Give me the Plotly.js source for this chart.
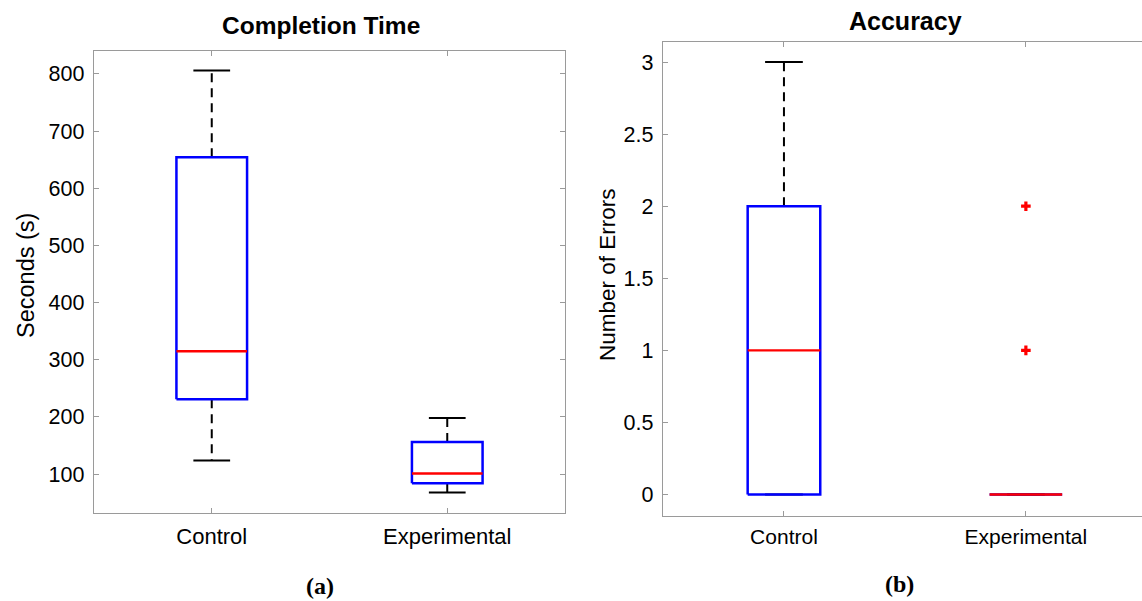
<!DOCTYPE html>
<html>
<head>
<meta charset="utf-8">
<script src="https://cdn.plot.ly/plotly-3.0.1.min.js"></script>
<style>html,body{margin:0;padding:0;background:#fff;}#chart{width:1142px;height:601px;}</style>
</head>
<body>
<div id="chart"></div>
<script>
// ---------- data ----------
const categories = ['Control', 'Experimental'];

// Completion Time (seconds)
const timeLowerWhisker = [124, 68];
const timeQ1 = [231, 84];
const timeMedian = [315, 101];
const timeQ3 = [654, 156];
const timeUpperWhisker = [806, 198];
const timeOutliers = [[], []];
const timeTicks = [100, 200, 300, 400, 500, 600, 700, 800];

// Accuracy (number of errors)
const errLowerWhisker = [0, 0];
const errQ1 = [0, 0];
const errMedian = [1, 0];
const errQ3 = [2, 0];
const errUpperWhisker = [3, 0];
const errOutliers = [[], [1, 2]];
const errTicks = [0, 0.5, 1, 1.5, 2, 2.5, 3];
const errTickText = ['0', '0.5', '1', '1.5', '2', '2.5', '3'];

// ---------- styles ----------
const BOX_HALF = 0.15;
const CAP_HALF = 0.078;
const BLUE = '#0000ff', RED = '#ff0000', BLACK = '#000000';
const AXIS_GRAY = '#9a9a9a';
const FONT = 'Liberation Sans, Arial, Helvetica, sans-serif';

function buildBoxes(lo, q1, med, q3, hi, outl, xa, ya) {
  const tr = [];
  const base = {type: 'scatter', mode: 'lines', xaxis: xa, yaxis: ya, hoverinfo: 'skip', showlegend: false};
  for (let i = 0; i < categories.length; i++) {
    const p = i + 1;
    // whiskers (dashed)
    tr.push(Object.assign({}, base, {x: [p, p], y: [q3[i], hi[i]], line: {color: BLACK, width: 2, dash: '9px,6px'}}));
    tr.push(Object.assign({}, base, {x: [p, p], y: [q1[i], lo[i]], line: {color: BLACK, width: 2, dash: '9px,6px'}}));
    // caps
    tr.push(Object.assign({}, base, {x: [p - CAP_HALF, p + CAP_HALF], y: [hi[i], hi[i]], line: {color: BLACK, width: 2}}));
    tr.push(Object.assign({}, base, {x: [p - CAP_HALF, p + CAP_HALF], y: [lo[i], lo[i]], line: {color: BLACK, width: 2}}));
    // box
    tr.push(Object.assign({}, base, {
      x: [p - BOX_HALF, p + BOX_HALF, p + BOX_HALF, p - BOX_HALF, p - BOX_HALF],
      y: [q1[i], q1[i], q3[i], q3[i], q1[i]],
      line: {color: BLUE, width: 2.5}
    }));
    // median
    tr.push(Object.assign({}, base, {x: [p - BOX_HALF, p + BOX_HALF], y: [med[i], med[i]], line: {color: RED, width: 2.4}}));
    // outliers
    if (outl[i].length) {
      tr.push({type: 'scatter', mode: 'markers', xaxis: xa, yaxis: ya, hoverinfo: 'skip', showlegend: false,
        x: outl[i].map(() => p), y: outl[i],
        marker: {symbol: 'cross', size: 8, color: RED, line: {width: 0}}});
    }
  }
  return tr;
}

const traces = [].concat(
  buildBoxes(timeLowerWhisker, timeQ1, timeMedian, timeQ3, timeUpperWhisker, timeOutliers, 'x', 'y'),
  buildBoxes(errLowerWhisker, errQ1, errMedian, errQ3, errUpperWhisker, errOutliers, 'x2', 'y2')
);

const W = 1142, H = 601;
const px = v => v / W;
const py = v => 1 - v / H;

const axisCommon = {
  showgrid: false, zeroline: false, showline: true, linecolor: AXIS_GRAY, linewidth: 1.3,
  ticks: 'inside', ticklen: 5, tickwidth: 1, tickcolor: AXIS_GRAY,
  tickfont: {family: FONT, size: 21.5, color: '#000'}, fixedrange: true
};

const layout = {
  width: W, height: H,
  margin: {l: 0, r: 0, t: 0, b: 0},
  paper_bgcolor: '#fff', plot_bgcolor: '#fff',
  showlegend: false,
  xaxis: Object.assign({}, axisCommon, {
    domain: [px(94), px(565)], range: [0.5, 2.5], anchor: 'y',
    tickvals: [1, 2], ticktext: categories, mirror: 'ticks', ticklabelstandoff: 3,
    tickfont: {family: FONT, size: 22, color: '#000'}
  }),
  yaxis: Object.assign({}, axisCommon, {
    domain: [py(513), py(51)], range: [32, 840], anchor: 'x',
    tickvals: timeTicks, mirror: 'ticks', ticklabelstandoff: 4
  }),
  xaxis2: Object.assign({}, axisCommon, {
    domain: [px(663), 1], range: [0.5, 2.48], anchor: 'y2',
    tickvals: [1, 2], ticktext: categories, mirror: 'ticks', ticklabelstandoff: 1,
    tickfont: {family: FONT, size: 21, color: '#000'}
  }),
  yaxis2: Object.assign({}, axisCommon, {
    domain: [py(516), py(42)], range: [-0.149, 3.139], anchor: 'x2',
    tickvals: errTicks, ticktext: errTickText, mirror: false, ticklabelstandoff: 4
  }),
  annotations: [
    {text: '<b>Completion Time</b>', x: px(321), y: py(26), xref: 'paper', yref: 'paper', showarrow: false,
      xanchor: 'center', yanchor: 'middle', font: {family: FONT, size: 24.5, color: '#000'}},
    {text: '<b>Accuracy</b>', x: px(905), y: py(21), xref: 'paper', yref: 'paper', showarrow: false,
      xanchor: 'center', yanchor: 'middle', font: {family: FONT, size: 25, color: '#000'}},
    {text: 'Seconds (s)', x: px(26), y: py(276), xref: 'paper', yref: 'paper', showarrow: false, textangle: -90,
      xanchor: 'center', yanchor: 'middle', font: {family: FONT, size: 23.5, color: '#000'}},
    {text: 'Number of Errors', x: px(607), y: py(275), xref: 'paper', yref: 'paper', showarrow: false, textangle: -90,
      xanchor: 'center', yanchor: 'middle', font: {family: FONT, size: 22.5, color: '#000'}},
    {text: '<b>(a)</b>', x: px(320), y: py(586), xref: 'paper', yref: 'paper', showarrow: false,
      xanchor: 'center', yanchor: 'middle', font: {family: 'Liberation Serif, Times New Roman, serif', size: 24, color: '#000'}},
    {text: '<b>(b)</b>', x: px(899), y: py(584), xref: 'paper', yref: 'paper', showarrow: false,
      xanchor: 'center', yanchor: 'middle', font: {family: 'Liberation Serif, Times New Roman, serif', size: 24, color: '#000'}}
  ]
};

Plotly.newPlot('chart', traces, layout, {staticPlot: true, displayModeBar: false});
</script>
</body>
</html>
